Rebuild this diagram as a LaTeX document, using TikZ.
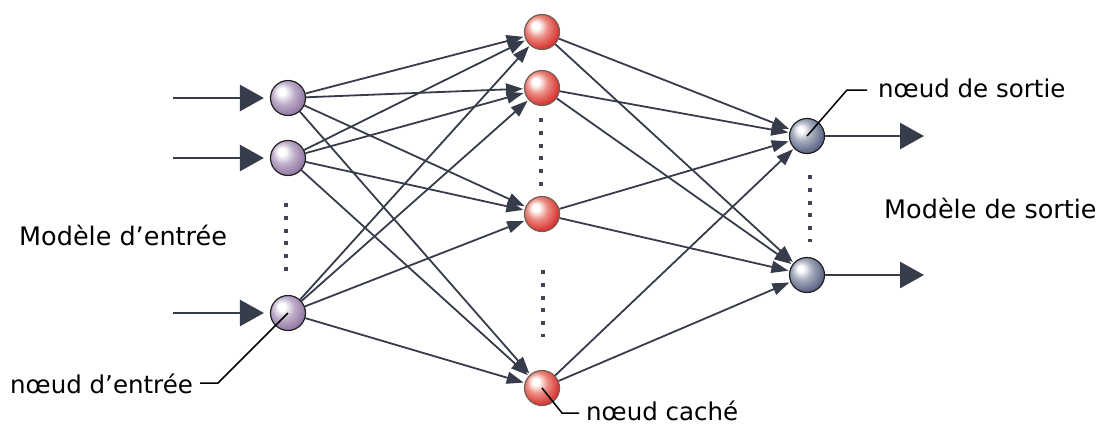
\documentclass[tikz,border=0pt]{standalone}
\usepackage{fontspec}
\setmainfont{DejaVu Sans}
\usetikzlibrary{arrows.meta}
\definecolor{linecol}{RGB}{55,60,75}
\definecolor{inball}{RGB}{135,105,155}
\definecolor{hidball}{RGB}{215,40,40}
\definecolor{hidpink}{RGB}{235,140,130}
\definecolor{outball}{RGB}{80,92,125}
\definecolor{dotcol}{RGB}{65,68,82}
\pgfdeclareradialshading{inshade}{\pgfpoint{-10bp}{10bp}}{%
  color(0bp)=(white); color(5bp)=(white); color(16bp)=(inball!55!white); color(32bp)=(inball); color(50bp)=(inball!75!black)}
\pgfdeclareradialshading{hidshade}{\pgfpoint{-10bp}{10bp}}{%
  color(0bp)=(white); color(5bp)=(white); color(15bp)=(hidpink); color(30bp)=(hidball); color(50bp)=(hidball!75!black)}
\pgfdeclareradialshading{outshade}{\pgfpoint{-10bp}{10bp}}{%
  color(0bp)=(white); color(4bp)=(white); color(14bp)=(outball!50!white); color(30bp)=(outball); color(50bp)=(outball!65!black)}
\tikzset{
  neuron/.style={circle, minimum size=35pt, inner sep=0pt, line width=1.2pt},
  inn/.style={neuron, shading=inshade, draw=black!75!gray},
  hid/.style={neuron, shading=hidshade, draw={rgb,255:red,115;green,95;blue,85}},
  outn/.style={neuron, shading=outshade, draw=black!75!gray},
  conn/.style={draw=linecol, line width=1.8pt, -{Triangle[length=17pt,width=12pt]}, shorten >=1pt},
  feed/.style={draw=linecol, line width=2.8pt, -{Triangle[length=24pt,width=26pt]}},
  leader/.style={draw=black, line width=1.5pt},
  dotline/.style={draw=dotcol, line width=4pt, dash pattern=on 4pt off 8.8pt},
  biglab/.style={font=\fontsize{25.5}{30}\selectfont, anchor=base west, inner sep=0pt},
  smalllab/.style={font=\fontsize{24.5}{28}\selectfont, anchor=base west, inner sep=0pt}
}
\begin{document}
\begin{tikzpicture}[x=1pt,y=-1pt]
\useasboundingbox (0,0) rectangle (1103,424);
% nodes
\node[inn] (I1) at (288,98) {};
\node[inn] (I2) at (288,158) {};
\node[inn] (I3) at (288,313) {};
\node[hid] (H1) at (542,32) {};
\node[hid] (H2) at (542,88) {};
\node[hid] (H3) at (542,214) {};
\node[hid] (H4) at (542,388) {};
\node[outn] (O1) at (807,136) {};
\node[outn] (O2) at (807,275) {};
% dotted columns
\draw[dotline] (286,203) -- (286,272);
\draw[dotline] (541,118) -- (541,186);
\draw[dotline] (543,270) -- (543,337);
\draw[dotline] (810,175) -- (810,242);
% connections
\foreach \i in {I1,I2,I3}
  \foreach \h in {H1,H2,H3,H4}
    \draw[conn] (\i) -- (\h);
\foreach \h in {H1,H2,H3,H4}
  \foreach \o in {O1,O2}
    \draw[conn] (\h) -- (\o);
% input and output arrows
\coordinate (a1) at (173,98);
\coordinate (a2) at (173,158);
\coordinate (a3) at (173,313);
\coordinate (b1) at (924,136);
\coordinate (b2) at (924,275);
\draw[feed, shorten >=6pt] (a1) -- (I1);
\draw[feed, shorten >=6pt] (a2) -- (I2);
\draw[feed, shorten >=6pt] (a3) -- (I3);
\draw[feed] (O1) -- (b1);
\draw[feed] (O2) -- (b2);
% labels
\node[biglab] (tin) at (19,245) {Modèle d’entrée};
\node[biglab] (tout) at (884,218) {Modèle de sortie};
\node[smalllab] (lout) at (878,97) {nœud de sortie};
\node[smalllab] (lin) at (10,393) {nœud d’entrée};
\node[smalllab] (lhid) at (586,420) {nœud caché};
% leaders
\coordinate (c1) at (847,90);
\coordinate (c2) at (867,90);
\draw[leader] (O1.center) -- (c1) -- (c2);
\coordinate (d1) at (218,383);
\coordinate (d2) at (200,383);
\draw[leader] (I3.center) -- (d1) -- (d2);
\coordinate (e1) at (562,413);
\coordinate (e2) at (579,413);
\draw[leader] (H4.center) -- (e1) -- (e2);
\end{tikzpicture}
\end{document}
